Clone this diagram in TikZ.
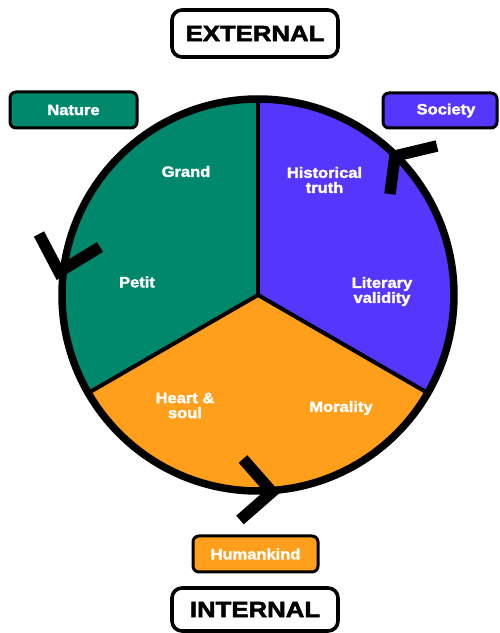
\documentclass[tikz,border=0pt]{standalone}
\usepackage{fontspec}
\newfontfamily\lblfont[FakeStretch=1.1, FakeBold=2]{Liberation Sans Bold}
\newfontfamily\bigfont[FakeStretch=1.17, FakeBold=2.5]{Liberation Sans Bold}
\definecolor{natgreen}{RGB}{0,136,109}
\definecolor{socblue}{RGB}{85,54,252}
\definecolor{humorange}{RGB}{255,159,28}
\tikzset{
  inlabel/.style={text=white, font=\lblfont\fontsize{15}{15}\selectfont, align=center, inner sep=0pt},
  catbox/.style={draw=black, line width=3pt, rounded corners=6pt, text=white, font=\lblfont\fontsize{15}{15}\selectfont, inner sep=0pt},
  bigbox/.style={draw=black, line width=3.6pt, rounded corners=10pt, fill=white, text=black, font=\bigfont\fontsize{22}{22}\selectfont, inner sep=0pt},
  chevron/.style={line width=11.5pt, line join=miter, line cap=butt, draw=black},
  divider/.style={line width=4pt, draw=black},
}
\begin{document}
\begin{tikzpicture}[x=1pt,y=1pt]
\useasboundingbox (0,0) rectangle (500,633);
\coordinate (c) at (258,338);
% sectors
\fill[natgreen] (c) -- ++(90:196) arc[start angle=90, end angle=210, radius=196] -- cycle;
\fill[socblue] (c) -- ++(-30:196) arc[start angle=-30, end angle=90, radius=196] -- cycle;
\fill[humorange] (c) -- ++(210:196) arc[start angle=210, end angle=330, radius=196] -- cycle;
% dividers
\draw[divider] (c) -- ++(90:196);
\draw[divider] (c) -- ++(210:196);
\draw[divider] (c) -- ++(330:196);
\draw[line width=7.5pt] (c) circle[radius=196];
% chevrons
\coordinate (la) at (59,361);
\coordinate (lb) at (39,399);
\coordinate (lc) at (100,386);
\draw[chevron] (lb) -- (la) -- (lc);
\coordinate (ra) at (395,477);
\coordinate (rb) at (437,487);
\coordinate (rc) at (390,439);
\draw[chevron] (rb) -- (ra) -- (rc);
\coordinate (ba) at (272,141);
\coordinate (bb) at (243,174);
\coordinate (bc) at (240,113);
\draw[chevron] (bb) -- (ba) -- (bc);
% inner labels
\node[inlabel] (grand) at (186,461.5) {Grand};
\node[inlabel] (petit) at (137,351) {Petit};
\node[inlabel] (hist) at (324.5,453) {Historical\\truth};
\node[inlabel] (lit) at (382,341.5) {Literary\\validity};
\node[inlabel] (heart) at (185,227.5) {Heart \&\\soul};
\node[inlabel] (moral) at (341,225) {Morality};
% category boxes
\node[catbox, fill=natgreen, minimum width=127pt, minimum height=36pt] (nature) at (73.5,523) {Nature};
\node[catbox, fill=socblue, minimum width=114pt, minimum height=35pt] (society) at (440,522.5) {\hspace*{12pt}Society};
\node[catbox, fill=humorange, minimum width=125pt, minimum height=36pt] (human) at (255.5,79) {Humankind};
% big boxes
\node[bigbox, minimum width=166pt, minimum height=47pt] (ext) at (255,599.5) {EXTERNAL};
\node[bigbox, minimum width=166pt, minimum height=43pt] (int) at (255,23.5) {INTERNAL};
\end{tikzpicture}
\end{document}
